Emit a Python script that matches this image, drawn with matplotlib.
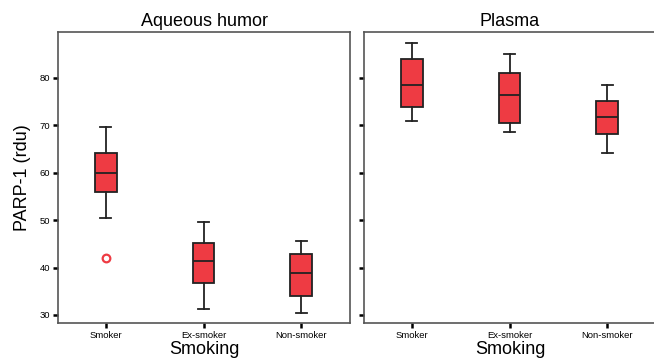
import matplotlib.pyplot as plt

plt.rcParams['font.family'] = ['Liberation Sans', 'DejaVu Sans']

groups = ["Smoker", "Ex-smoker", "Non-smoker"]

# aqueous humor: whisker low, q1, median, q3, whisker high
aq_whislo = [50.5, 31.2, 30.4]
aq_q1 = [56.0, 36.7, 34.0]
aq_med = [60.0, 41.3, 38.8]
aq_q3 = [64.2, 45.1, 42.8]
aq_whishi = [69.6, 49.7, 45.5]
aq_fliers = [[42.0], [], []]

# plasma
pl_whislo = [70.9, 68.7, 64.2]
pl_q1 = [73.9, 70.4, 68.1]
pl_med = [78.5, 76.5, 71.8]
pl_q3 = [84.1, 81.1, 75.2]
pl_whishi = [87.4, 85.0, 78.5]
pl_fliers = [[], [], []]

yticks = [30, 40, 50, 60, 70, 80]

red = "#ee3b43"
edge = "#222222"


def make_stats(lo, q1, med, q3, hi, fl):
    return [dict(whislo=lo[i], q1=q1[i], med=med[i], q3=q3[i], whishi=hi[i],
                 fliers=fl[i], label=groups[i]) for i in range(len(groups))]


fig = plt.figure(figsize=(6.54, 3.62), dpi=100)
W, H = 654, 362
ax1 = fig.add_axes([58 / W, 39 / H, 292 / W, 291 / H])
ax2 = fig.add_axes([364 / W, 39 / H, 292 / W, 291 / H])

panels = [
    (ax1, "Aqueous humor", make_stats(aq_whislo, aq_q1, aq_med, aq_q3, aq_whishi, aq_fliers)),
    (ax2, "Plasma", make_stats(pl_whislo, pl_q1, pl_med, pl_q3, pl_whishi, pl_fliers)),
]

for ax, title, stats in panels:
    ax.bxp(stats, positions=range(len(groups)), widths=0.22, patch_artist=True,
           boxprops=dict(facecolor=red, edgecolor=edge, linewidth=1.3),
           medianprops=dict(color=edge, linewidth=1.3),
           whiskerprops=dict(color=edge, linewidth=1.3),
           capprops=dict(color=edge, linewidth=1.3),
           flierprops=dict(marker="o", markerfacecolor="none", markeredgecolor=red,
                           markersize=5.5, markeredgewidth=1.6),
           capwidths=0.11)
    ax.set_xlim(-0.49, 2.5)
    ax.set_ylim(28.3, 89.7)
    ax.set_yticks(yticks)
    ax.set_title(title, fontsize=13, pad=4)
    ax.set_xlabel("Smoking", fontsize=13, labelpad=1)
    ax.tick_params(axis="both", direction="out", length=3.5, width=1.8,
                   labelsize=6.8, color="black", pad=2)
    for s in ax.spines.values():
        s.set_color("#555555")
        s.set_linewidth(1.2)

ax1.set_ylabel("PARP-1 (rdu)", fontsize=13, labelpad=6)
ax2.tick_params(axis="y", labelleft=False)

fig.savefig("out.png", dpi=100)
